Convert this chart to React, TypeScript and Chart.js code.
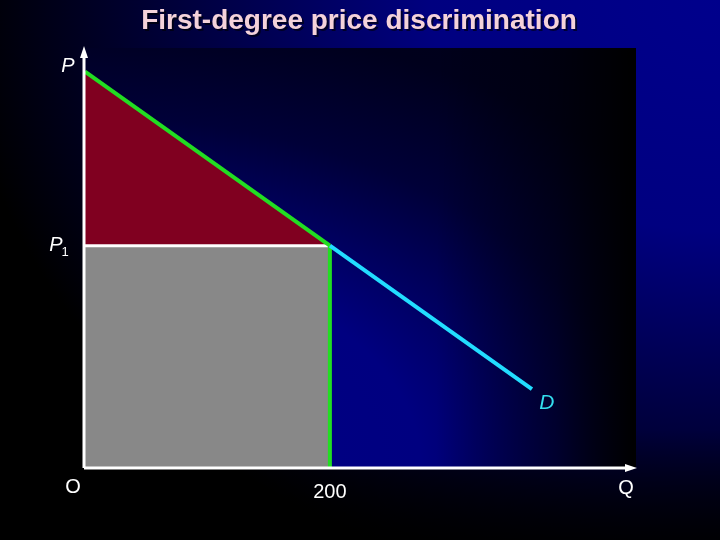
import React, { useEffect, useRef } from "react";
import { Chart, registerables } from "chart.js";

Chart.register(...registerables);

// Data
const greenQ = [0, 200];
const greenP = [10, 5.6];
const cyanQ = [200, 365];
const cyanP = [5.6, 1.97];
const p1Value = 5.6;
const q1Value = 200;
const xMax = 450;
const yMax = 10.6;
const titleText = "First-degree price discrimination";
const tickLabel200 = "200";

const toPts = (xs: number[], ys: number[]) => xs.map((x, i) => ({ x, y: ys[i] }));

const bgPlugin = {
  id: "bgPlugin",
  beforeDraw(chart: any) {
    const { ctx, chartArea, width, height } = chart;
    ctx.save();
    // page background
    ctx.save();
    ctx.translate(width, 0);
    ctx.scale(1, 0.8);
    const g = ctx.createRadialGradient(0, 0, 0, 0, 0, 760);
    g.addColorStop(0, "#00008c");
    g.addColorStop(0.38, "#000080");
    g.addColorStop(1, "#000000");
    ctx.fillStyle = g;
    ctx.fillRect(-width, 0, width, height / 0.8);
    ctx.restore();
    const v = ctx.createLinearGradient(0, 430, 0, height);
    v.addColorStop(0, "rgba(0,0,0,0)");
    v.addColorStop(1, "rgba(0,0,0,0.85)");
    ctx.fillStyle = v;
    ctx.fillRect(0, 430, width, height - 430);
    // plot area
    const { left, right, top, bottom } = chartArea;
    ctx.save();
    ctx.translate(left, bottom);
    ctx.scale(1.6, 1);
    const r = ctx.createRadialGradient(0, 0, 0, 0, 0, 700);
    r.addColorStop(0, "#000088");
    r.addColorStop(0.3, "#000080");
    r.addColorStop(0.5, "#000038");
    r.addColorStop(0.65, "#00001c");
    r.addColorStop(1, "#000014");
    ctx.fillStyle = r;
    ctx.fillRect(0, top - bottom, (right - left) / 1.6, bottom - top);
    ctx.restore();
    const h = ctx.createLinearGradient(right - 200, 0, right, 0);
    h.addColorStop(0, "rgba(0,0,0,0)");
    h.addColorStop(0.6, "rgba(0,0,0,0.45)");
    h.addColorStop(1, "rgba(0,0,0,1)");
    ctx.fillStyle = h;
    ctx.fillRect(right - 200, top, 200, bottom - top);
    ctx.restore();
  },
  afterDatasetsDraw(chart: any) {
    const { ctx, scales } = chart;
    const xs = scales.x;
    const ys = scales.y;
    const x0 = xs.getPixelForValue(0);
    const y0 = ys.getPixelForValue(0);
    const xEnd = xs.getPixelForValue(xMax);
    const yTop = ys.getPixelForValue(yMax);
    ctx.save();
    ctx.strokeStyle = "#ffffff";
    ctx.fillStyle = "#ffffff";
    ctx.lineWidth = 3;
    // y axis
    ctx.beginPath();
    ctx.moveTo(x0 - 1, y0 + 1);
    ctx.lineTo(x0 - 1, yTop + 8);
    ctx.stroke();
    ctx.beginPath();
    ctx.moveTo(x0 - 1, yTop - 2);
    ctx.lineTo(x0 - 5, yTop + 10);
    ctx.lineTo(x0 + 3, yTop + 10);
    ctx.closePath();
    ctx.fill();
    // x axis
    ctx.beginPath();
    ctx.moveTo(x0 - 1, y0 + 1);
    ctx.lineTo(xEnd - 8, y0 + 1);
    ctx.stroke();
    ctx.beginPath();
    ctx.moveTo(xEnd + 1, y0 + 1);
    ctx.lineTo(xEnd - 11, y0 - 3);
    ctx.lineTo(xEnd - 11, y0 + 5);
    ctx.closePath();
    ctx.fill();

    // labels
    ctx.textBaseline = "middle";
    ctx.textAlign = "center";
    ctx.font = "italic 20px 'Liberation Sans', Arial, sans-serif";
    ctx.fillText("P", x0 - 17, ys.getPixelForValue(10) - 5);
    ctx.fillText("P", x0 - 29, ys.getPixelForValue(p1Value));
    ctx.font = "13px 'Liberation Sans', Arial, sans-serif";
    ctx.fillText("1", x0 - 20, ys.getPixelForValue(p1Value) + 7);
    ctx.font = "20px 'Liberation Sans', Arial, sans-serif";
    ctx.fillText("O", x0 - 12, y0 + 20);
    ctx.fillText(tickLabel200, xs.getPixelForValue(q1Value), y0 + 25);
    ctx.fillText("Q", xEnd - 10, y0 + 21);
    ctx.fillStyle = "#33ddee";
    ctx.font = "italic 21px 'Liberation Sans', Arial, sans-serif";
    ctx.fillText("D", xs.getPixelForValue(cyanQ[1]) + 15, ys.getPixelForValue(cyanP[1]) + 14);

    // title
    ctx.font = "bold 28px 'Liberation Sans', Arial, sans-serif";
    ctx.fillStyle = "rgba(0,0,0,0.6)";
    ctx.fillText(titleText, 361, 23);
    ctx.fillStyle = "#f4d2da";
    ctx.fillText(titleText, 359, 21);
    ctx.restore();
  },
};

export default function App() {
  const ref = useRef<HTMLCanvasElement>(null);
  useEffect(() => {
    if (!ref.current) return;
    const chart = new Chart(ref.current, {
      type: "line",
      data: {
        datasets: [
          {
            data: toPts(greenQ, greenP),
            borderWidth: 0,
            borderColor: "rgba(0,0,0,0)",
            backgroundColor: "#800020",
            fill: { value: p1Value },
            pointRadius: 0,
            clip: false,
            order: 5,
          } as any,
          {
            data: toPts([0, q1Value], [p1Value, p1Value]),
            borderWidth: 3,
            borderColor: "#ffffff",
            backgroundColor: "#888888",
            fill: { value: 0 },
            pointRadius: 0,
            clip: false,
            order: 4,
          } as any,
          {
            data: toPts([q1Value, q1Value], [0, p1Value]),
            borderWidth: 4,
            borderColor: "#22dd22",
            fill: false,
            pointRadius: 0,
            clip: false,
            order: 3,
          } as any,
          {
            data: toPts(cyanQ, cyanP),
            borderWidth: 4,
            borderColor: "#22ddff",
            borderCapStyle: "butt",
            fill: false,
            pointRadius: 0,
            clip: false,
            order: 2,
          } as any,
          {
            data: toPts(greenQ, greenP),
            borderWidth: 4,
            borderColor: "#22dd22",
            fill: false,
            pointRadius: 0,
            clip: false,
            order: 1,
          } as any,
        ],
      },
      options: {
        animation: false,
        responsive: false,
        maintainAspectRatio: false,
        layout: { padding: { left: 85, right: 84, top: 48, bottom: 73 } },
        plugins: { legend: { display: false }, tooltip: { enabled: false }, title: { display: false } },
        scales: {
          x: { type: "linear", min: 0, max: xMax, display: false },
          y: { type: "linear", min: 0, max: yMax, display: false },
        },
      },
      plugins: [bgPlugin],
    });
    return () => chart.destroy();
  }, []);
  return (
    <div style={{ position: "fixed", left: 0, top: 0, width: 720, height: 540 }}>
      <canvas ref={ref} width={720} height={540} style={{ width: 720, height: 540, display: "block" }} />
    </div>
  );
}
